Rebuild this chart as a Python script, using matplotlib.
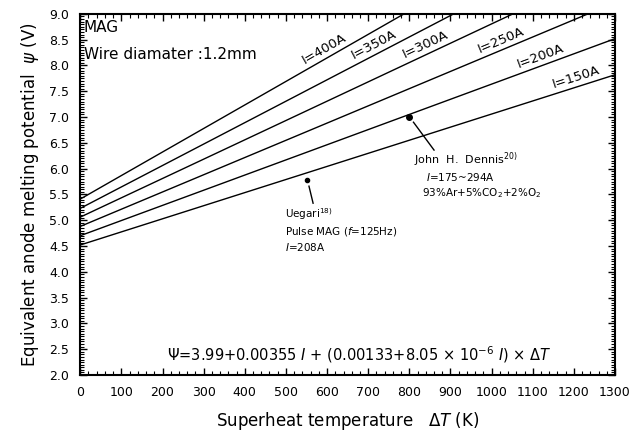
import numpy as np
import matplotlib
matplotlib.use("Agg")
import matplotlib.pyplot as plt
from matplotlib.ticker import MultipleLocator

# welding current of each line (A) and psi
currents = [150, 200, 250, 300, 350, 400]
psi_at_0 = [4.52, 4.70, 4.88, 5.06, 5.23, 5.41]
psi_at_1300 = [7.82, 8.52, 9.22, 9.93, 10.63, 11.34]
dT_ends = [0, 1300]

# line labels (position along each line)
label_text = ["I=150A", "I=200A", "I=250A", "I=300A", "I=350A", "I=400A"]
label_dT = [1210, 1125, 1028, 846, 722, 600]

# experimental points
dennis_pt = (800, 7.0)
uegari_pt = (551, 5.78)

plt.rcParams['font.family'] = ['DejaVu Sans']

fig = plt.figure(figsize=(6.42, 4.34), dpi=100)
ax = fig.add_axes([0.125, 0.136, 0.833, 0.832])

for I, p0, p1, lab, ldt in zip(currents, psi_at_0, psi_at_1300, label_text, label_dT):
    ax.plot(dT_ends, [p0, p1], color='black', lw=1.0)
    slope = (p1 - p0) / (dT_ends[1] - dT_ends[0])
    ang = np.degrees(np.arctan(slope))
    y = p0 + slope * ldt
    ax.text(ldt, y + 0.06, lab, rotation=ang, transform_rotates_text=True,
            rotation_mode='anchor', ha='center', va='bottom', fontsize=9.5)

# points and pointers
ax.plot(*dennis_pt, 'o', color='black', ms=4)
ax.plot([dennis_pt[0] + 10, 860], [dennis_pt[1] - 0.1, 6.36], color='black', lw=1.0)
ax.text(812, 6.18, "John  H.  Dennis$^{20)}$", fontsize=8, va='center')
ax.text(840, 5.84, "$I$=175~294A", fontsize=7.5, va='center')
ax.text(830, 5.53, "93%Ar+5%CO$_2$+2%O$_2$", fontsize=7.5, va='center')

ax.plot(*uegari_pt, 'o', color='black', ms=3)
ax.plot([uegari_pt[0] + 5, uegari_pt[0] + 15], [uegari_pt[1] - 0.12, 5.33], color='black', lw=1.0)
ax.text(498, 5.12, "Uegari$^{18)}$", fontsize=7.5, va='center')
ax.text(498, 4.79, "Pulse MAG ($f$=125Hz)", fontsize=7.5, va='center')
ax.text(498, 4.49, "$I$=208A", fontsize=7.5, va='center')

ax.text(8, 8.73, "MAG", fontsize=11, va='center')
ax.text(8, 8.22, "Wire diamater :1.2mm", fontsize=11, va='center')
ax.text(212, 2.39,
        r"$\mathit{\Psi}$=3.99+0.00355 $I$ + (0.00133+8.05 $\times$ 10$^{-6}$ $I$) $\times$ $\mathit{\Delta T}$",
        fontsize=10.5, va='center')

ax.set_xlim(0, 1300)
ax.set_ylim(2.0, 9.0)
ax.xaxis.set_major_locator(MultipleLocator(100))
ax.xaxis.set_minor_locator(MultipleLocator(20))
ax.yaxis.set_major_locator(MultipleLocator(0.5))
ax.yaxis.set_minor_locator(MultipleLocator(0.05))
ax.yaxis.set_major_formatter(plt.FuncFormatter(lambda v, p: f"{v:.1f}"))
ax.tick_params(which='both', direction='in', top=True, right=True, labelsize=9)
ax.tick_params(axis='x', pad=8)
ax.tick_params(axis='y', pad=8)
ax.tick_params(which='major', length=5, width=1)
ax.tick_params(which='minor', length=3, width=0.8)
for s in ax.spines.values():
    s.set_linewidth(1.5)

ax.set_xlabel(r"Superheat temperature   $\mathit{\Delta T}$ (K)", fontsize=12, labelpad=8)
ax.set_ylabel(r"Equivalent anode melting potential  $\psi$ (V)", fontsize=12, labelpad=6)

fig.savefig("out.png", dpi=100)
